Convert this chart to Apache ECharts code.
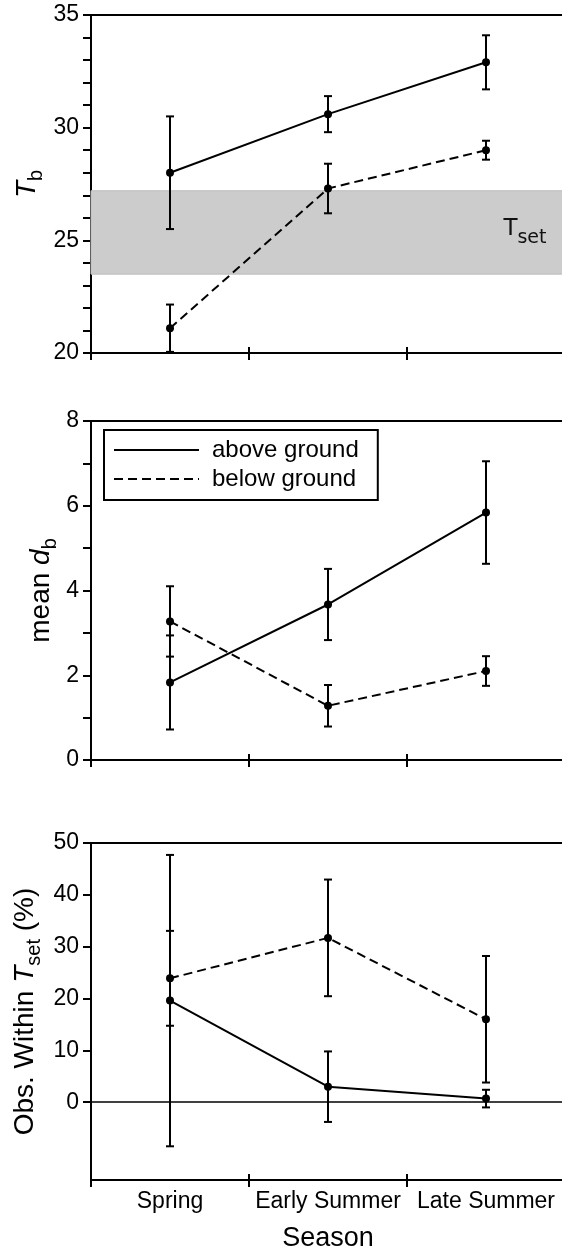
<!DOCTYPE html>
<html>
<head>
<meta charset="utf-8">
<script src="https://cdn.jsdelivr.net/npm/echarts@6/dist/echarts.min.js"></script>
<style>
html,body{margin:0;padding:0;background:#fff;overflow:hidden;}
#chart{width:568px;height:1253px;}
</style>
</head>
<body>
<div id="chart"></div>
<script>
// ---- data ----
const seasons = ['Spring', 'Early Summer', 'Late Summer'];

const tbAbove = [28.0, 30.6, 32.9];
const tbAboveErr = [2.5, 0.8, 1.2];
const tbBelow = [21.1, 27.3, 29.0];
const tbBelowErr = [1.05, 1.1, 0.42];
const tsetBand = [23.5, 27.2];

const dbAbove = [1.83, 3.67, 5.84];
const dbAboveErr = [1.11, 0.84, 1.21];
const dbBelow = [3.27, 1.28, 2.10];
const dbBelowErr = [0.83, 0.49, 0.35];

const obsAbove = [19.6, 3.0, 0.7];
const obsAboveErr = [28.1, 6.8, 1.7];
const obsBelow = [23.9, 31.7, 16.0];
const obsBelowErr = [9.15, 11.25, 12.2];

const tbTicks = [20,21,22,23,24,25,26,27,28,29,30,31,32,33,34,35];
const tbLabels = [20, 25, 30, 35];
const dbTicks = [0,1,2,3,4,5,6,7,8];
const dbLabels = [0, 2, 4, 6, 8];
const obsTicks = [0, 10, 20, 30, 40, 50];
const obsLabels = [0, 10, 20, 30, 40, 50];

// ---- styles ----
const FONT = 'Liberation Sans, Arial, Helvetica, sans-serif';
const BLACK = '#000';

const chart = echarts.init(document.getElementById('chart'), null, {renderer: 'canvas'});

const grids = [
  {left: 91, right: 3, top: 15, height: 338, outerBoundsMode: 'none'},
  {left: 91, right: 3, top: 421, height: 339, outerBoundsMode: 'none'},
  {left: 91, right: 3, top: 843, height: 337, outerBoundsMode: 'none'}
];

const xAxes = [];
grids.forEach((g, i) => {
  const last = i === 2;
  xAxes.push({
    gridIndex: i, type: 'category', data: seasons, position: 'bottom',
    axisLine: {show: true, onZero: false, lineStyle: {color: BLACK, width: 2}},
    axisTick: {show: true, length: 7, lineStyle: {color: BLACK, width: 2}},
    axisLabel: {show: last, interval: 0, hideOverlap: false, color: BLACK, fontSize: 23, fontFamily: FONT, margin: 10},
    splitLine: {show: false},
    name: last ? 'Season' : '', nameLocation: 'middle', nameGap: 45,
    nameTextStyle: {color: BLACK, fontSize: 27, fontFamily: FONT}
  });
  xAxes.push({
    gridIndex: i, type: 'category', data: seasons, position: 'bottom',
    axisLine: {show: false, onZero: false},
    axisTick: {show: true, inside: true, length: 6, lineStyle: {color: BLACK, width: 2}},
    axisLabel: {show: false}, splitLine: {show: false}
  });
  xAxes.push({
    gridIndex: i, type: 'category', data: seasons, position: 'top',
    axisLine: {show: true, onZero: false, lineStyle: {color: BLACK, width: 2}},
    axisTick: {show: false}, axisLabel: {show: false}, splitLine: {show: false}
  });
});

function yAxisCfg(i, min, max, ticks, labels, name, nameGap, rich) {
  return {
    gridIndex: i, type: 'value', min: min, max: max,
    axisLine: {show: true, onZero: false, lineStyle: {color: BLACK, width: 2}},
    axisTick: {show: true, length: 8, customValues: ticks, lineStyle: {color: BLACK, width: 2}},
    axisLabel: {show: true, customValues: labels, color: BLACK, fontSize: 23, fontFamily: FONT, margin: 12},
    splitLine: {show: false},
    name: name, nameLocation: 'middle', nameRotate: 90, nameGap: nameGap,
    nameMoveOverlap: false,
    nameTextStyle: {color: BLACK, fontSize: 28, fontFamily: FONT, rich: rich}
  };
}

const richName = {
  n: {fontSize: 28, fontFamily: FONT, color: BLACK, verticalAlign: 'top'},
  i: {fontSize: 28, fontFamily: FONT, fontStyle: 'italic', color: BLACK, verticalAlign: 'top'},
  s: {fontSize: 20, fontFamily: FONT, color: BLACK, padding: [13, 0, 0, 0], verticalAlign: 'bottom'}
};

const yAxes = [
  yAxisCfg(0, 20, 35, tbTicks, tbLabels, '{i|T}{s|b}', 45, richName),
  yAxisCfg(1, 0, 8, dbTicks, dbLabels, '{n|mean }{i|d}{s|b}', 31, richName),
  yAxisCfg(2, -15, 50, obsTicks, obsLabels, '{n|Obs. Within }{i|T}{s|set}{n| (%)}', 47, richName)
];

function errData(mean, err) {
  return mean.map((m, k) => [k, m - err[k], m + err[k]]);
}

function errSeries(name, panel, mean, err) {
  return {
    name: name, type: 'custom', xAxisIndex: panel * 3, yAxisIndex: panel,
    data: errData(mean, err), encode: {x: 0, y: [1, 2]}, silent: true, clip: false, z: 3,
    renderItem: function (params, api) {
      const lo = api.coord([api.value(0), api.value(1)]);
      const hi = api.coord([api.value(0), api.value(2)]);
      const hw = 4;
      const st = {stroke: BLACK, lineWidth: 2, fill: null};
      return {
        type: 'group',
        children: [
          {type: 'line', shape: {x1: lo[0], y1: lo[1], x2: hi[0], y2: hi[1]}, style: st},
          {type: 'line', shape: {x1: lo[0] - hw, y1: lo[1], x2: lo[0] + hw, y2: lo[1]}, style: st},
          {type: 'line', shape: {x1: hi[0] - hw, y1: hi[1], x2: hi[0] + hw, y2: hi[1]}, style: st}
        ]
      };
    }
  };
}

function lineSeries(name, panel, data, dashed, extra) {
  return Object.assign({
    name: name, type: 'line', xAxisIndex: panel * 3, yAxisIndex: panel, data: data,
    symbol: 'circle', symbolSize: 8, showSymbol: true, z: 4,
    lineStyle: {color: BLACK, width: 2, type: dashed ? [9, 5] : 'solid'},
    itemStyle: {color: BLACK},
    emphasis: {disabled: true}, silent: true
  }, extra || {});
}

const series = [
  lineSeries('above ground', 0, tbAbove, false, {
    markArea: {
      silent: true, z: 1,
      itemStyle: {color: '#cccccc', borderColor: '#bdbdbd', borderWidth: 1},
      label: {
        show: true, position: 'insideRight', distance: 19,
        formatter: '{t|T}{s|set}',
        rich: {
          t: {fontSize: 23, fontFamily: 'DejaVu Sans, sans-serif', color: '#111', verticalAlign: 'top'},
          s: {fontSize: 19, fontFamily: 'DejaVu Sans, sans-serif', color: '#111', padding: [11, 0, 0, 0], verticalAlign: 'bottom'}
        }
      },
      data: [[{yAxis: tsetBand[0]}, {yAxis: tsetBand[1]}]]
    }
  }),
  lineSeries('below ground', 0, tbBelow, true),
  errSeries('above ground', 0, tbAbove, tbAboveErr),
  errSeries('below ground', 0, tbBelow, tbBelowErr),

  lineSeries('above ground', 1, dbAbove, false),
  lineSeries('below ground', 1, dbBelow, true),
  errSeries('above ground', 1, dbAbove, dbAboveErr),
  errSeries('below ground', 1, dbBelow, dbBelowErr),

  lineSeries('above ground', 2, obsAbove, false, {
    markLine: {
      silent: true, symbol: 'none', label: {show: false},
      lineStyle: {color: BLACK, width: 1.5, type: 'solid'},
      data: [{yAxis: 0}]
    }
  }),
  lineSeries('below ground', 2, obsBelow, true),
  errSeries('above ground', 2, obsAbove, obsAboveErr),
  errSeries('below ground', 2, obsBelow, obsBelowErr)
];

const option = {
  animation: false,
  backgroundColor: '#fff',
  textStyle: {fontFamily: FONT, color: BLACK},
  grid: grids,
  xAxis: xAxes,
  yAxis: yAxes,
  legend: {
    data: [{name: 'above ground'}, {name: 'below ground'}],
    orient: 'vertical', left: 104, top: 430,
    borderColor: BLACK, borderWidth: 2, padding: [8, 19, 9, 9],
    itemWidth: 85, itemHeight: 14, itemGap: 5,
    selectedMode: false,
    itemStyle: {opacity: 0},
    textStyle: {fontSize: 24, color: BLACK, fontFamily: FONT, padding: [0, 0, 0, 8]}
  },
  series: series
};

chart.setOption(option);
</script>
</body>
</html>
